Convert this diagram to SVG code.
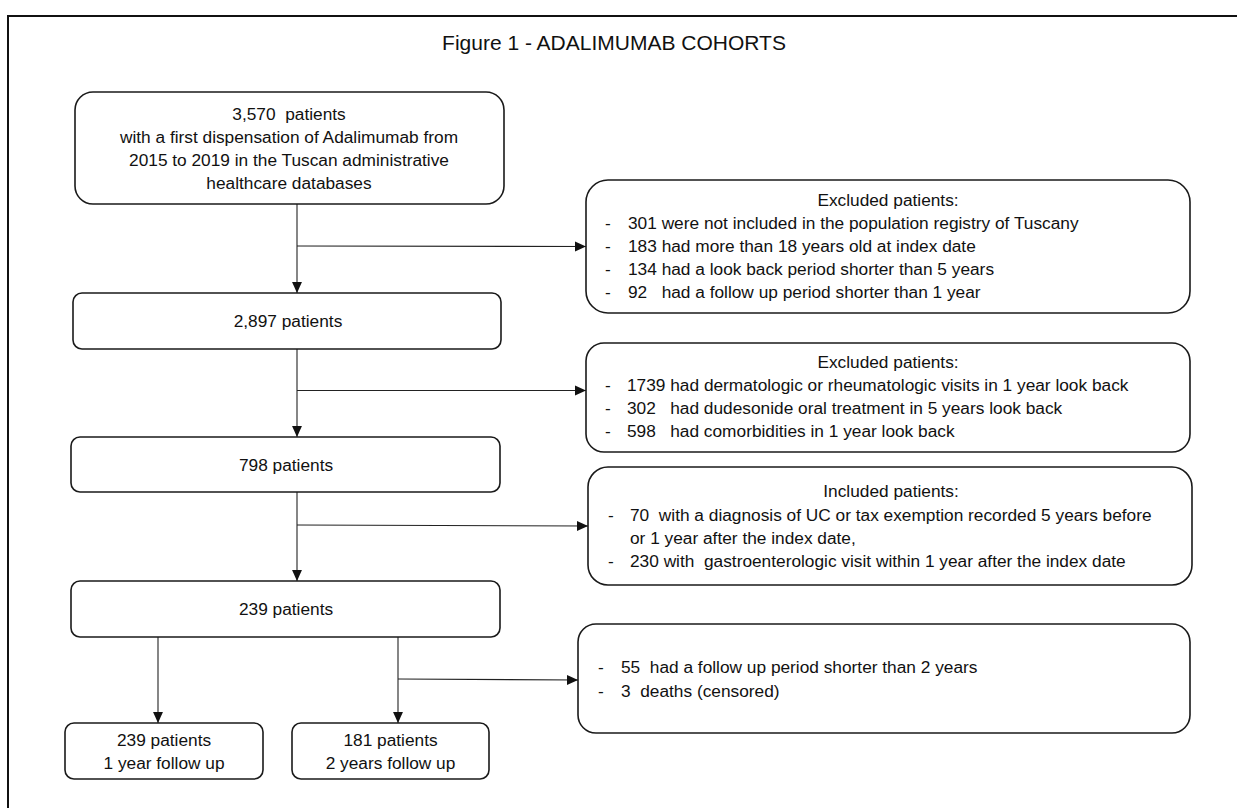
<svg xmlns="http://www.w3.org/2000/svg" width="1237" height="808" viewBox="0 0 1237 808">
<defs>
<style>
text{font-family:"Liberation Sans",Arial,sans-serif;font-size:17.3px;fill:#111;white-space:pre}
.title{font-size:21px}
.c{text-anchor:middle}
.box{fill:#fff;stroke:#1a1a1a;stroke-width:1.6}
.conn{stroke:#222;stroke-width:1.1;fill:none}
.frame{stroke:#111;stroke-width:2;fill:none}
</style>
<marker id="ah" markerUnits="userSpaceOnUse" markerWidth="11" markerHeight="11" viewBox="0 0 10 10" refX="10" refY="5" orient="auto">
<path d="M0,0.5 L10,5 L0,9.5 Z" fill="#111"/>
</marker>
</defs>
<rect width="1237" height="808" fill="#fff"/>
<path class="frame" d="M8,808 V16 H1237"/>
<text class="title c" x="614" y="50">Figure 1 - ADALIMUMAB COHORTS</text>

<g id="connectors">
<line class="conn" x1="297" y1="204" x2="297" y2="293" marker-end="url(#ah)"/>
<line class="conn" x1="297" y1="246" x2="586" y2="246.5" marker-end="url(#ah)"/>
<line class="conn" x1="297" y1="349" x2="297" y2="437" marker-end="url(#ah)"/>
<line class="conn" x1="297" y1="390.5" x2="586" y2="390.5" marker-end="url(#ah)"/>
<line class="conn" x1="297" y1="492" x2="297" y2="581" marker-end="url(#ah)"/>
<line class="conn" x1="297" y1="525" x2="588" y2="526" marker-end="url(#ah)"/>
<line class="conn" x1="158" y1="637" x2="158" y2="723" marker-end="url(#ah)"/>
<line class="conn" x1="398" y1="637" x2="398" y2="723" marker-end="url(#ah)"/>
<line class="conn" x1="398" y1="679" x2="578" y2="680" marker-end="url(#ah)"/>
</g>

<g id="n1">
<rect class="box" x="75" y="92" width="429" height="112" rx="18"/>
<text class="c" x="289" y="120">3,570  patients</text>
<text class="c" x="289" y="143">with a first dispensation of Adalimumab from</text>
<text class="c" x="289" y="166">2015 to 2019 in the Tuscan administrative</text>
<text class="c" x="289" y="189">healthcare databases</text>
</g>

<g id="ex1">
<rect class="box" x="586" y="180" width="604" height="133" rx="22"/>
<text class="c" x="888" y="205.5">Excluded patients:</text>
<text y="228.5"><tspan x="605">-</tspan><tspan x="628">301 were not included in the population registry of Tuscany</tspan></text>
<text y="251.5"><tspan x="605">-</tspan><tspan x="628">183 had more than 18 years old at index date</tspan></text>
<text y="274.5"><tspan x="605">-</tspan><tspan x="628">134 had a look back period shorter than 5 years</tspan></text>
<text y="297.5"><tspan x="605">-</tspan><tspan x="628">92   had a follow up period shorter than 1 year</tspan></text>
</g>

<g id="n2">
<rect class="box" x="73" y="293" width="428" height="56" rx="9"/>
<text class="c" x="288" y="327">2,897 patients</text>
</g>

<g id="ex2">
<rect class="box" x="586" y="343" width="604" height="109" rx="18"/>
<text class="c" x="888" y="367.5">Excluded patients:</text>
<text y="390.5"><tspan x="605">-</tspan><tspan x="627">1739 had dermatologic or rheumatologic visits in 1 year look back</tspan></text>
<text y="413.5"><tspan x="605">-</tspan><tspan x="627">302   had dudesonide oral treatment in 5 years look back</tspan></text>
<text y="436.5"><tspan x="605">-</tspan><tspan x="627">598   had comorbidities in 1 year look back</tspan></text>
</g>

<g id="n3">
<rect class="box" x="71" y="437" width="429" height="55" rx="9"/>
<text class="c" x="286" y="471">798 patients</text>
</g>

<g id="inc">
<rect class="box" x="588" y="467" width="604" height="118" rx="20"/>
<text class="c" x="891" y="497">Included patients:</text>
<text y="520.5"><tspan x="608">-</tspan><tspan x="630">70  with a diagnosis of UC or tax exemption recorded 5 years before</tspan></text>
<text x="630" y="543.5">or 1 year after the index date,</text>
<text y="566.5"><tspan x="608">-</tspan><tspan x="630">230 with  gastroenterologic visit within 1 year after the index date</tspan></text>
</g>

<g id="n4">
<rect class="box" x="71" y="581" width="429" height="56" rx="9"/>
<text class="c" x="286" y="615">239 patients</text>
</g>

<g id="ex3">
<rect class="box" x="578" y="624" width="612" height="109" rx="18"/>
<text y="673"><tspan x="598">-</tspan><tspan x="621">55  had a follow up period shorter than 2 years</tspan></text>
<text y="696.5"><tspan x="598">-</tspan><tspan x="621">3  deaths (censored)</tspan></text>
</g>

<g id="n5">
<rect class="box" x="65" y="723" width="198" height="56" rx="9"/>
<text class="c" x="164" y="746">239 patients</text>
<text class="c" x="164" y="768.5">1 year follow up</text>
</g>

<g id="n6">
<rect class="box" x="292" y="723" width="197" height="56" rx="9"/>
<text class="c" x="390.5" y="746">181 patients</text>
<text class="c" x="390.5" y="768.5">2 years follow up</text>
</g>
</svg>
